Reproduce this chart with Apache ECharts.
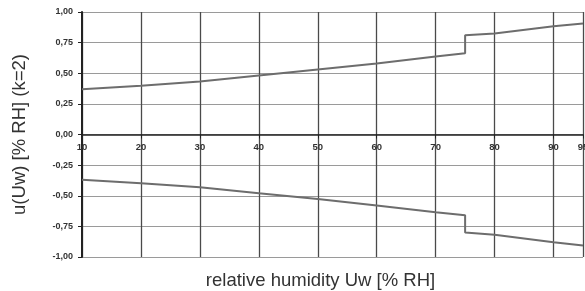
<!DOCTYPE html>
<html>
<head>
<meta charset="utf-8">
<script src="https://cdn.jsdelivr.net/npm/echarts@6/dist/echarts.min.js"></script>
<style>
  html, body { margin: 0; padding: 0; background: #fff; }
  #chart { width: 585px; height: 291px; }
</style>
</head>
<body>
<div id="chart"></div>
<script>
// relative humidity (x) and expanded uncertainty (upper, lower)
const humidity = [10, 20, 30, 40, 50, 60, 70, 75, 75, 80, 90, 95];
const upper = [0.37, 0.397, 0.433, 0.482, 0.531, 0.580, 0.637, 0.664, 0.81, 0.825, 0.884, 0.906];
const lower = [-0.37, -0.397, -0.43, -0.48, -0.526, -0.58, -0.634, -0.66, -0.80, -0.818, -0.88, -0.906];

const lineColor = '#6d6d6d';

const chart = echarts.init(document.getElementById('chart'));
chart.setOption({
  animation: false,
  grid: { left: 82, right: 2, top: 12, bottom: 34, outerBoundsMode: 'none', containLabel: false },
  xAxis: {
    type: 'value',
    min: 10,
    max: 95,
    interval: 10,
    offset: -122.5,
    name: 'relative humidity Uw [% RH]',
    nameLocation: 'middle',
    nameGap: 137,
    nameTextStyle: { fontFamily: 'Liberation Sans', fontSize: 18.5, color: '#333', padding: [0, 24, 0, 0] },
    axisLine: { onZero: false, lineStyle: { color: '#222', width: 1.5 } },
    axisTick: { show: true, length: 4, lineStyle: { color: '#222' } },
    axisLabel: {
      fontFamily: 'Liberation Sans', fontSize: 9.5, fontWeight: 'bold', color: '#333', margin: 8
    },
    splitLine: { show: true, lineStyle: { color: '#4a4a4a', width: 1.3 } }
  },
  yAxis: {
    type: 'value',
    min: -1,
    max: 1,
    interval: 0.25,
    name: 'u(Uw) [% RH] (k=2)',
    nameLocation: 'middle',
    nameGap: 53,
    nameTextStyle: { fontFamily: 'Liberation Sans', fontSize: 18.5, color: '#333' },
    axisLine: { show: true, onZero: false, lineStyle: { color: '#222', width: 2 } },
    axisTick: { show: true, length: 4, lineStyle: { color: '#222' } },
    axisLabel: {
      fontFamily: 'Liberation Sans', fontSize: 9, fontWeight: 'bold', color: '#333', margin: 9,
      formatter: v => v.toFixed(2).replace('.', ',')
    },
    splitLine: { show: true, lineStyle: { color: '#9a9a9a', width: 1.2 } }
  },
  series: [
    {
      type: 'line',
      data: humidity.map((h, i) => [h, upper[i]]),
      showSymbol: false,
      lineStyle: { color: lineColor, width: 2 }
    },
    {
      type: 'line',
      data: humidity.map((h, i) => [h, lower[i]]),
      showSymbol: false,
      lineStyle: { color: lineColor, width: 2 }
    }
  ]
});
</script>
</body>
</html>
